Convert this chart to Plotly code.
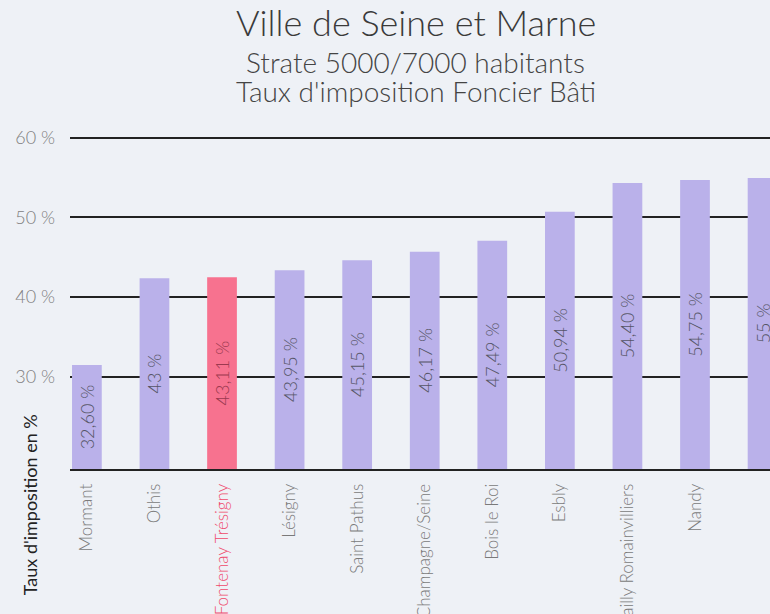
import plotly.graph_objects as go

communes = ["Mormant", "Othis", "Fontenay Trésigny", "Lésigny", "Saint Pathus",
            "Champagne/Seine", "Bois le Roi", "Esbly", "Bailly Romainvilliers",
            "Nandy", "Mouroux"]
taux = [32.60, 43.0, 43.11, 43.95, 45.15, 46.17, 47.49, 50.94, 54.40, 54.75, 55.0]
highlight = "Fontenay Trésigny"
y_ticks = [30, 40, 50, 60]
y_tick_labels = ["30 %", "40 %", "50 %", "60 %"]

# the source draws its bars on a slightly different scale than its gridlines
GRID_RANGE = [18.4, 61.6]
BAR_RANGE = [20.17, 61.33]
FONT = "Lato"
LAVENDER = "#bab1ea"
PINK = "#f7728f"


def fmt(v):
    if abs(v - round(v)) < 1e-9:
        return f"{int(round(v))} %"
    return f"{v:.2f}".replace(".", ",") + " %"


colors = [PINK if c == highlight else LAVENDER for c in communes]
text_colors = ["#9b3a50" if c == highlight else "#555566" for c in communes]
xs = list(range(len(communes)))

fig = go.Figure()
# empty helper trace so that the gridline axis (y) is drawn
fig.add_trace(go.Scatter(x=[None], y=[None], mode="markers",
                         showlegend=False, hoverinfo="skip"))
fig.add_trace(go.Bar(
    x=xs,
    y=[v - BAR_RANGE[0] for v in taux],
    base=BAR_RANGE[0],
    yaxis="y2",
    width=0.44,
    marker=dict(color=colors, line=dict(width=0)),
    text=[fmt(v) for v in taux],
    textposition="inside",
    insidetextanchor="middle",
    textangle=-90,
    constraintext="none",
    textfont=dict(family=FONT, size=18, color=text_colors, weight=300),
    hovertext=communes,
    showlegend=False,
))

tick_text = [
    f"<span style='color:#ee4a6c'>{c}</span>" if c == highlight else c
    for c in communes
]

fig.update_layout(
    width=770, height=614,
    margin=dict(l=70, r=0, t=125, b=145, autoexpand=False),
    paper_bgcolor="#eef1f6",
    plot_bgcolor="#eef1f6",
    font=dict(family=FONT, color="#777777"),
    xaxis=dict(
        range=[-0.25, 10.11],
        tickmode="array", tickvals=xs, ticktext=tick_text,
        tickangle=-90,
        tickfont=dict(family=FONT, size=17, color="#7a7a7a", weight=300),
        showgrid=False, zeroline=False,
        showline=True, linecolor="#222222", linewidth=2,
        ticks="", ticklabelstandoff=6, automargin=False,
    ),
    yaxis=dict(
        range=GRID_RANGE,
        tickmode="array", tickvals=y_ticks, ticktext=y_tick_labels,
        tickfont=dict(family=FONT, size=18, color="#808080", weight=300),
        showgrid=True, gridcolor="#222222", gridwidth=2,
        zeroline=False, showline=False, ticks="",
        ticklabelstandoff=14, automargin=False,
    ),
    yaxis2=dict(
        range=BAR_RANGE, overlaying="y", side="left",
        visible=False, showgrid=False, zeroline=False,
    ),
    annotations=[
        dict(text="Ville de Seine et Marne", xref="paper", yref="paper",
             x=0.494, y=1.298, xanchor="center", yanchor="middle",
             showarrow=False,
             font=dict(family=FONT, size=36, color="#3a3a3a", weight=300)),
        dict(text="Strate 5000/7000 habitants", xref="paper", yref="paper",
             x=0.494, y=1.183, xanchor="center", yanchor="middle",
             showarrow=False,
             font=dict(family=FONT, size=28, color="#444444", weight=300)),
        dict(text="Taux d'imposition Foncier Bâti", xref="paper", yref="paper",
             x=0.494, y=1.099, xanchor="center", yanchor="middle",
             showarrow=False,
             font=dict(family=FONT, size=28, color="#444444", weight=300)),
        dict(text="Taux d'imposition en %", xref="paper", yref="paper",
             x=-0.057, y=-0.105, xanchor="center", yanchor="middle",
             textangle=-90, showarrow=False,
             font=dict(family=FONT, size=18, color="#222222")),
    ],
)

fig.write_html(
    "out.html",
    config={"displayModeBar": False},
    post_script="document.body.style.margin='0';document.body.style.overflow='hidden';",
)
